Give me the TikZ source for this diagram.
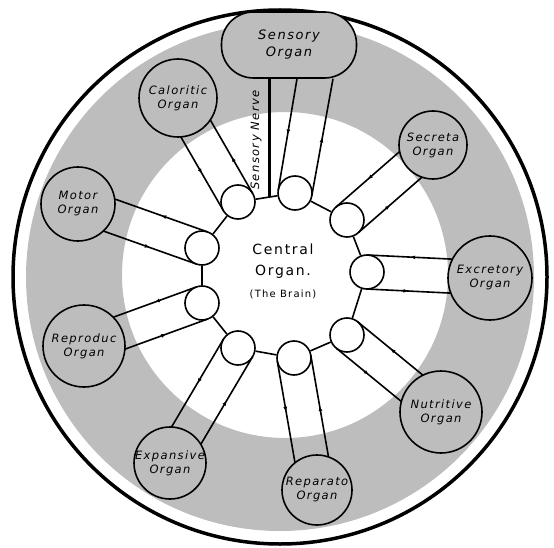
\documentclass[tikz,border=0pt]{standalone}
\usepackage{fontspec}
\usepackage{tikz}
\usetikzlibrary{arrows.meta, calc, decorations.markings}
\newfontfamily\handfont[LetterSpace=12]{DejaVu Sans}
\colorlet{stipple}{black!26}
\tikzset{
	organ label/.style={font=\handfont\itshape\fontsize{11.5}{14}\selectfont, align=center},
	organ/.style={circle, draw, fill=stipple, line width=1.6pt, inner sep=0pt,
		label={[organ label]center:{#1}}},
	ganglion/.style={circle, draw, fill=white, line width=1.6pt, minimum size=34pt, inner sep=0pt},
	nerve/.style={line width=1.6pt, postaction={decorate},
		decoration={markings, mark=at position 0.5 with {\arrow{Latex[length=5pt, width=4pt]}}}},
}

\begin{document}
\begin{tikzpicture}[x=1pt, y=-1pt]
	\useasboundingbox (0,0) rectangle (554,548);
	% Stippled ring and outer rim:
	\fill[stipple, even odd rule] (280,277) circle[radius=254pt] (285,275) circle[radius=163pt];
	\draw[line width=3.5pt] (280,277) circle[radius=267pt];
	% Organs:
	\node[draw, fill=stipple, line width=1.6pt, rounded corners=32pt, minimum width=135pt, minimum height=66pt,
		label={[organ label, font=\handfont\itshape\fontsize{13}{17}\selectfont]center:{Sensory\\Organ}}] (sens) at (289,45) {};
	\node[organ={Caloritic\\Organ}, minimum size=78pt] (calor) at (178,98) {};
	\node[organ={Motor\\Organ}, minimum size=74pt] (motor) at (78,204) {};
	\node[organ={Reproduc\\Organ}, minimum size=82pt] (reprod) at (84,346) {};
	\node[organ={Expansive\\Organ}, minimum size=72pt] (expan) at (170,463) {};
	\node[organ={Reparato\\Organ}, minimum size=70pt] (repar) at (317,490) {};
	\node[organ={Nutritive\\Organ}, minimum size=82pt] (nutri) at (441,412) {};
	\node[organ={Excretory\\Organ}, minimum size=84pt] (excret) at (490,278) {};
	\node[organ={Secreta\\Organ}, minimum size=68pt] (secret) at (433,145) {};
	% Central organ, a ring of ganglia:
	\node[ganglion] (g1) at (295,193) {};
	\node[ganglion] (g2) at (347,220) {};
	\node[ganglion] (g3) at (367,272) {};
	\node[ganglion] (g4) at (347,335) {};
	\node[ganglion] (g5) at (294,358) {};
	\node[ganglion] (g6) at (238,348) {};
	\node[ganglion] (g7) at (202,303) {};
	\node[ganglion] (g8) at (202,248) {};
	\node[ganglion] (g9) at (238,202) {};
	\foreach \a/\b in {g1/g2, g2/g3, g3/g4, g4/g5, g5/g6, g6/g7, g7/g8, g8/g9, g9/g1}
		\draw[line width=1.6pt] (\a) -- (\b);
	\node[font=\handfont\fontsize{14}{21}\selectfont, align=center] (brain) at (283,271)
		{Central\\Organ.\\[1pt]{\fontsize{10}{12}\selectfont(The Brain)}};
	% Nerves, one pair for each organ:
	\foreach \org/\g/\dist in {calor/g9/35.1pt, motor/g8/32.9pt, reprod/g7/37.3pt, expan/g6/31.7pt,
		repar/g5/30.6pt, nutri/g4/37.3pt, excret/g3/38.4pt, secret/g2/29.4pt} {
		\draw[nerve] ($(\g)!17pt!-90:(\org)$) -- ($(\org)!\dist!(\g)!17pt!90:(\g)$);
		\draw[nerve] ($(\org)!\dist!(\g)!17pt!-90:(\g)$) -- ($(\g)!17pt!90:(\org)$);
	}
	\coordinate (sbase) at (315,78);
	\draw[nerve] ($(sens.south)+(8,0)$) -- ($(g1)!17pt!90:(sbase)$);
	\draw[nerve] ($(g1)!17pt!-90:(sbase)$) -- ($(sens.south)+(44,0)$);
	% Sensory nerve:
	\coordinate (sjoin) at ($(g9)!0.55!(g1)$);
	\draw[line width=3pt] (sjoin |- sens.south) -- (sjoin);
	\node[rotate=90, font=\handfont\itshape\fontsize{11.5}{13}\selectfont] (snerve) at (256,140) {Sensory Nerve};
\end{tikzpicture}
\end{document}
